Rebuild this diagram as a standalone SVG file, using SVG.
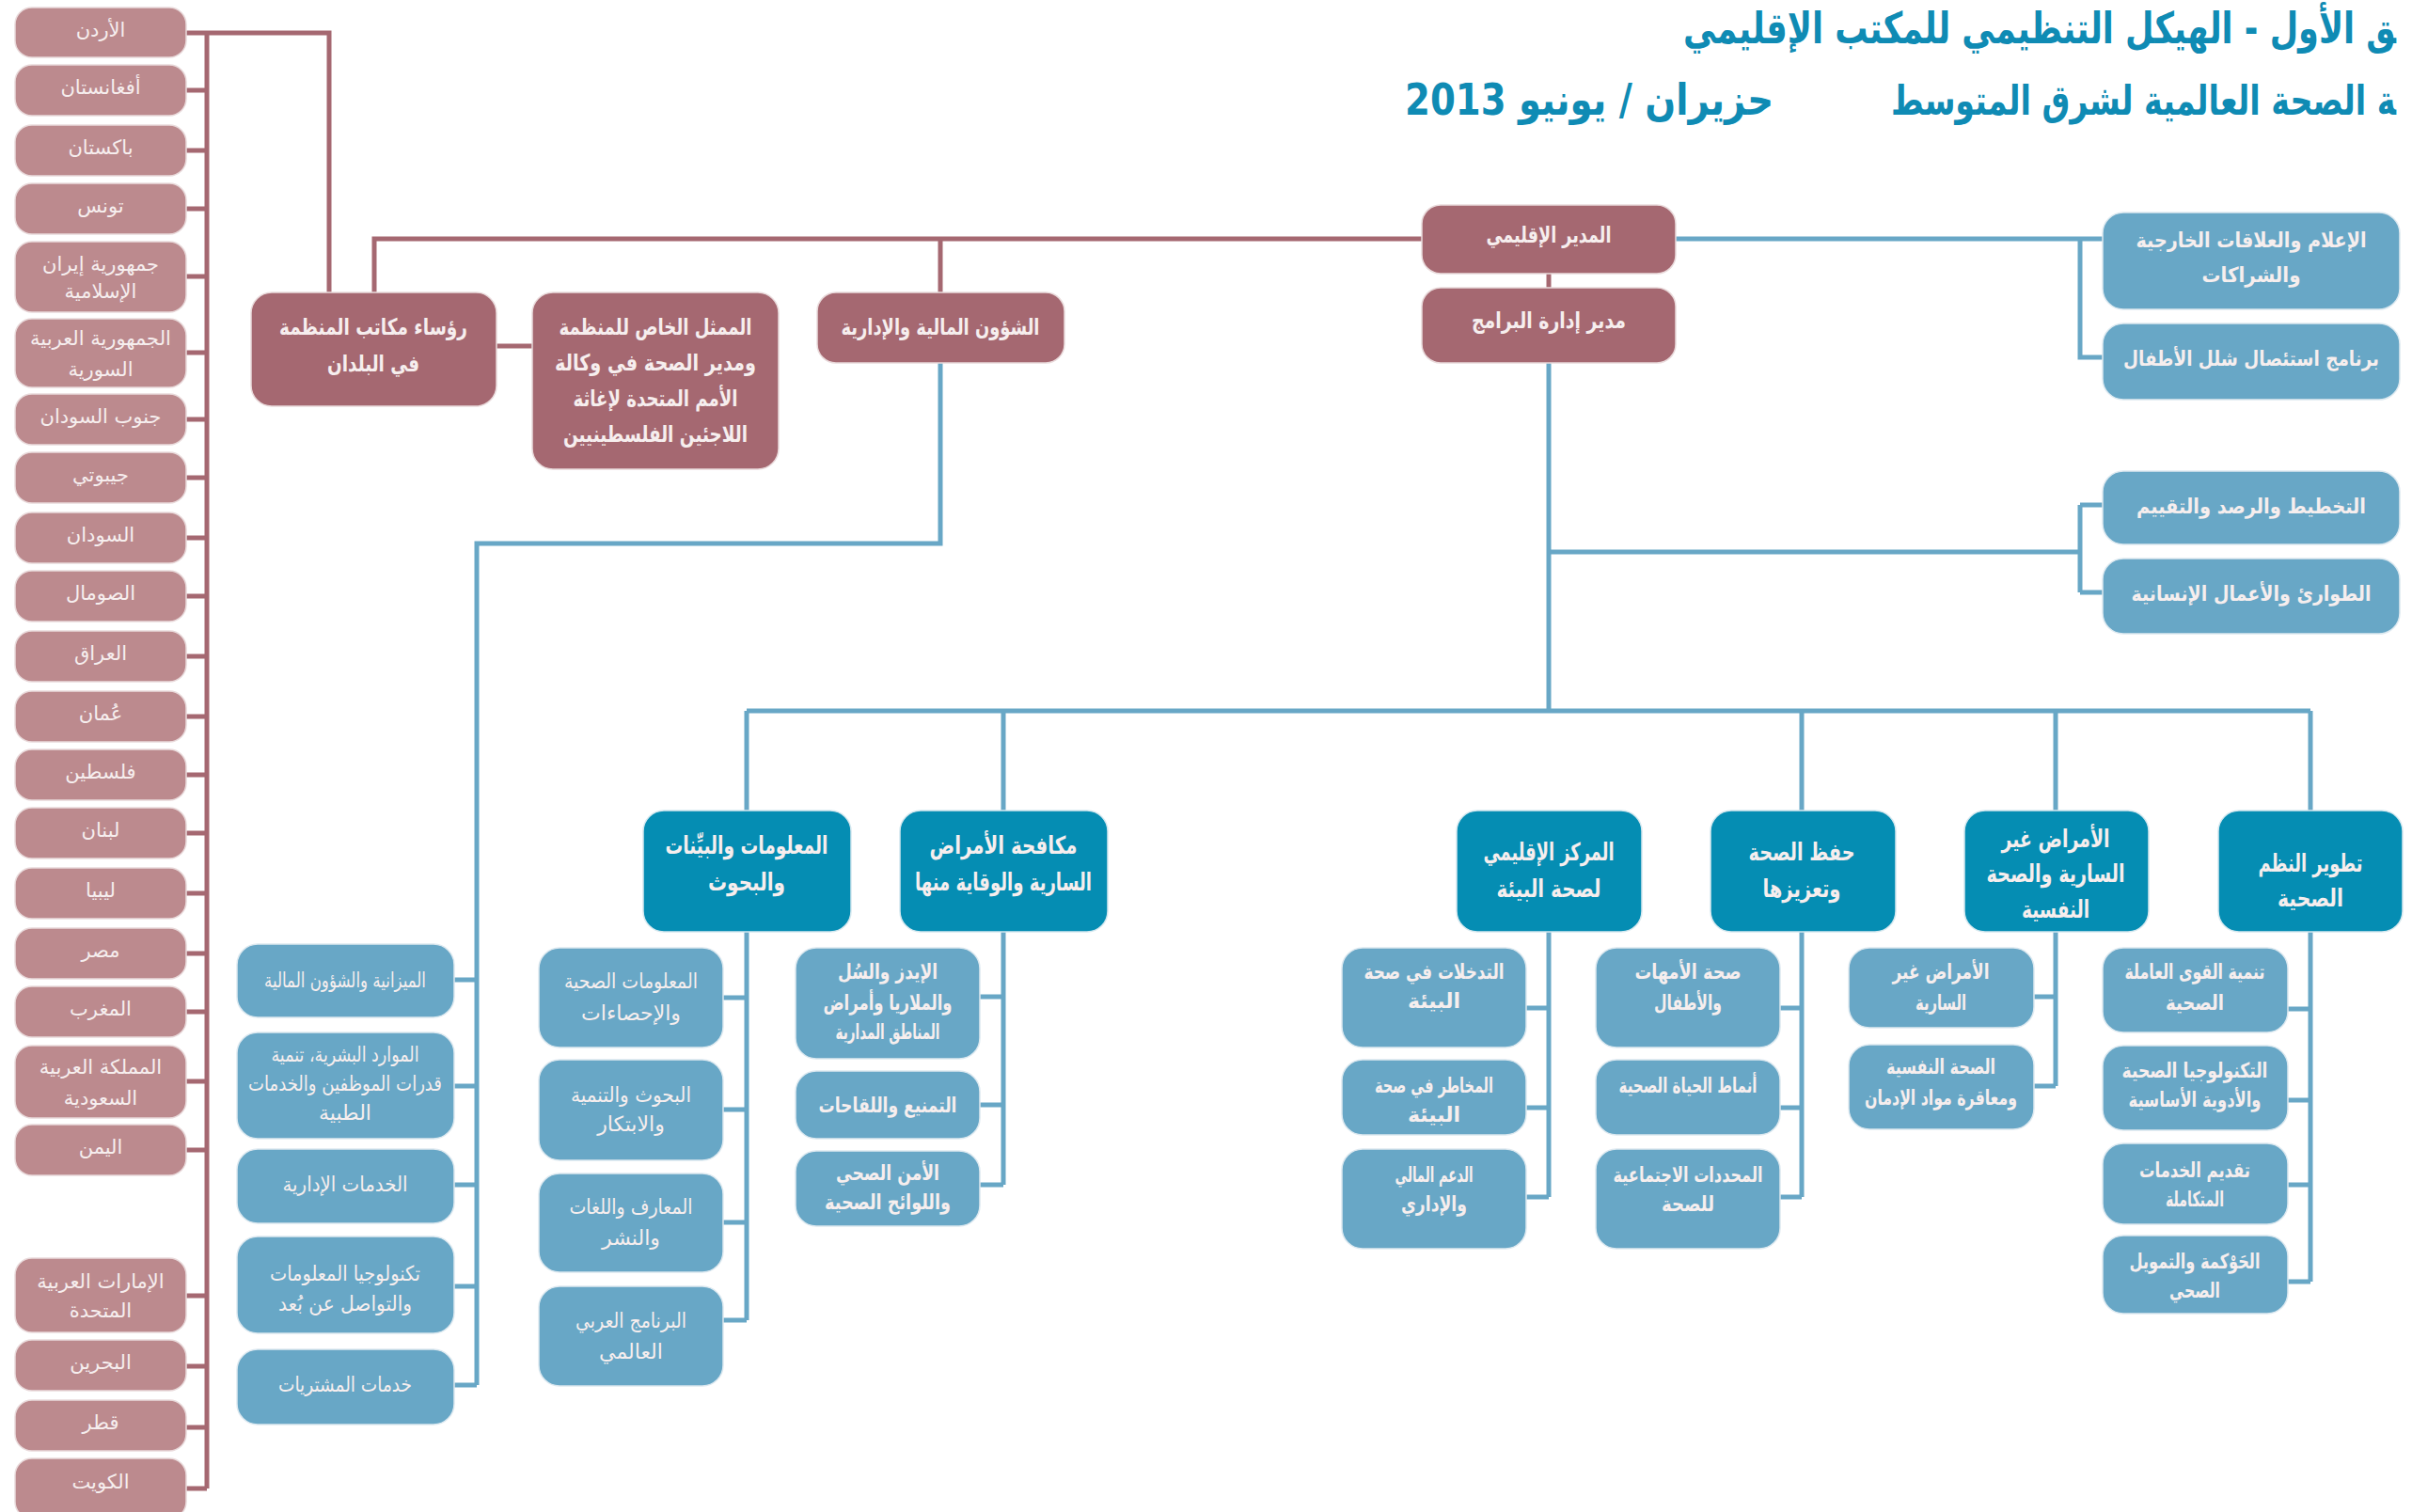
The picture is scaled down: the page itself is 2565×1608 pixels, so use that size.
<svg xmlns="http://www.w3.org/2000/svg" width="2565" height="1608" viewBox="0 0 2565 1608">
<style>
text{font-family:"DejaVu Sans",sans-serif;fill:#f6eeee;text-anchor:middle}
.t{fill:#0f8bb4;font-weight:bold}
.c rect{fill:#bc8a8e;stroke:#e9dadb;stroke-width:1.5}
.c text{font-size:21px}
.m rect{fill:#a56871;stroke:#e9dadb;stroke-width:1.5}
.m text{font-size:24px;font-weight:bold}
.b rect{fill:#68a7c6;stroke:#dde9f0;stroke-width:1.5}
.b text{font-size:22px}
.bb text{font-weight:bold}
.d rect{fill:#058db3;stroke:#d5e8ef;stroke-width:1.5}
.d text{font-size:26px;font-weight:bold}
.lm{stroke:#a56871;stroke-width:5;fill:none}
.lb{stroke:#68a7c6;stroke-width:5;fill:none}
</style>
<rect width="2565" height="1608" fill="#ffffff"/>
<g id="title">
<text class="t" x="2548" y="46" font-size="46" style="text-anchor:end" textLength="758" lengthAdjust="spacingAndGlyphs">&#x200D;ق الأول - الهيكل التنظيمي للمكتب الإقليمي</text>
<text class="t" x="2548" y="122" font-size="44" style="text-anchor:end" textLength="537" lengthAdjust="spacingAndGlyphs">&#x200D;ة الصحة العالمية لشرق المتوسط</text>
<text class="t" x="1690" y="122" font-size="46" textLength="392" lengthAdjust="spacingAndGlyphs">حزيران / يونيو 2013</text>
</g>
<g id="connectors">
<path class="lm" d="M198 35H350V311M220 35V1583"/>
<path class="lm" d="M198 96H220M198 160H220M198 222H220M198 294H220M198 375H220M198 446H220M198 508H220M198 572H220M198 634H220M198 698H220M198 762H220M198 824H220M198 886H220M198 950H220M198 1014H220M198 1076H220M198 1150H220M198 1223H220M198 1378H220M198 1453H220M198 1518H220M198 1583H220"/>
<path class="lm" d="M398 311V254H1512M1000 254V311M528 368H566M1647 291V306"/>
<path class="lb" d="M1782 254H2236M2212 254V380H2236"/>
<path class="lb" d="M1000 386V578H507V1473M483 1042H507M483 1155H507M483 1260H507M483 1368H507M483 1473H507"/>
<path class="lb" d="M1647 386V756M1647 587H2212M2212 537V630M2212 537H2236M2212 630H2236"/>
<path class="lb" d="M794 756H2457M794 756V862M1067 756V862M1916 756V862M2186 756V862M2457 756V862"/>
<path class="lb" d="M794 991V1404M769 1061H794M769 1180H794M769 1300H794M769 1404H794"/>
<path class="lb" d="M1067 991V1260M1042 1060H1067M1042 1175H1067M1042 1260H1067"/>
<path class="lb" d="M1647 991V1273M1623 1072H1647M1623 1178H1647M1623 1273H1647"/>
<path class="lb" d="M1916 991V1273M1893 1072H1916M1893 1178H1916M1893 1273H1916"/>
<path class="lb" d="M2186 991V1155M2163 1060H2186M2163 1155H2186"/>
<path class="lb" d="M2457 991V1363M2433 1073H2457M2433 1170H2457M2433 1260H2457M2433 1363H2457"/>
</g>
<g id="countries" class="c">
<g id="jordan"><rect x="16" y="8" width="182" height="53" rx="18"/><text x="107" y="39">الأردن</text></g>
<g id="afghanistan"><rect x="16" y="69" width="182" height="54" rx="18"/><text x="107" y="100">أفغانستان</text></g>
<g id="pakistan"><rect x="16" y="133" width="182" height="54" rx="18"/><text x="107" y="164">باكستان</text></g>
<g id="tunisia"><rect x="16" y="195" width="182" height="54" rx="18"/><text x="107" y="226">تونس</text></g>
<g id="iran"><rect x="16" y="257" width="182" height="75" rx="18"/><text x="107" y="288">جمهورية إيران</text><text x="107" y="317">الإسلامية</text></g>
<g id="syria"><rect x="16" y="339" width="182" height="73" rx="18"/><text x="107" y="367">الجمهورية العربية</text><text x="107" y="400">السورية</text></g>
<g id="southsudan"><rect x="16" y="419" width="182" height="54" rx="18"/><text x="107" y="450">جنوب السودان</text></g>
<g id="djibouti"><rect x="16" y="481" width="182" height="54" rx="18"/><text x="107" y="512">جيبوتي</text></g>
<g id="sudan"><rect x="16" y="545" width="182" height="54" rx="18"/><text x="107" y="576">السودان</text></g>
<g id="somalia"><rect x="16" y="607" width="182" height="54" rx="18"/><text x="107" y="638">الصومال</text></g>
<g id="iraq"><rect x="16" y="671" width="182" height="54" rx="18"/><text x="107" y="702">العراق</text></g>
<g id="oman"><rect x="16" y="735" width="182" height="54" rx="18"/><text x="107" y="766">عُمان</text></g>
<g id="palestine"><rect x="16" y="797" width="182" height="54" rx="18"/><text x="107" y="828">فلسطين</text></g>
<g id="lebanon"><rect x="16" y="859" width="182" height="54" rx="18"/><text x="107" y="890">لبنان</text></g>
<g id="libya"><rect x="16" y="923" width="182" height="54" rx="18"/><text x="107" y="954">ليبيا</text></g>
<g id="egypt"><rect x="16" y="987" width="182" height="54" rx="18"/><text x="107" y="1018">مصر</text></g>
<g id="morocco"><rect x="16" y="1049" width="182" height="54" rx="18"/><text x="107" y="1080">المغرب</text></g>
<g id="saudi"><rect x="16" y="1112" width="182" height="77" rx="18"/><text x="107" y="1142">المملكة العربية</text><text x="107" y="1175">السعودية</text></g>
<g id="yemen"><rect x="16" y="1196" width="182" height="54" rx="18"/><text x="107" y="1227">اليمن</text></g>
<g id="uae"><rect x="16" y="1338" width="182" height="79" rx="18"/><text x="107" y="1370">الإمارات العربية</text><text x="107" y="1401">المتحدة</text></g>
<g id="bahrain"><rect x="16" y="1425" width="182" height="54" rx="18"/><text x="107" y="1456">البحرين</text></g>
<g id="qatar"><rect x="16" y="1489" width="182" height="54" rx="18"/><text x="107" y="1520">قطر</text></g>
<g id="kuwait"><rect x="16" y="1551" width="182" height="64" rx="18"/><text x="107" y="1583">الكويت</text></g>
</g>
<g id="main" class="m">
<g id="heads"><rect x="267" y="311" width="261" height="121" rx="22"/><text x="397" y="356" textLength="200" lengthAdjust="spacingAndGlyphs">رؤساء مكاتب المنظمة</text><text x="397" y="395" textLength="98" lengthAdjust="spacingAndGlyphs">في البلدان</text></g>
<g id="unrwa"><rect x="566" y="311" width="262" height="188" rx="22"/><text x="697" y="356" textLength="205" lengthAdjust="spacingAndGlyphs">الممثل الخاص للمنظمة</text><text x="697" y="394" textLength="214" lengthAdjust="spacingAndGlyphs">ومدير الصحة في وكالة</text><text x="697" y="432" textLength="175" lengthAdjust="spacingAndGlyphs">الأمم المتحدة لإغاثة</text><text x="697" y="470" textLength="196" lengthAdjust="spacingAndGlyphs">اللاجئين الفلسطينيين</text></g>
<g id="dam"><rect x="869" y="311" width="263" height="75" rx="20"/><text x="1000" y="356" textLength="211" lengthAdjust="spacingAndGlyphs">الشؤون المالية والإدارية</text></g>
<g id="rd"><rect x="1512" y="218" width="270" height="73" rx="20"/><text x="1647" y="258" textLength="133" lengthAdjust="spacingAndGlyphs">المدير الإقليمي</text></g>
<g id="dpm"><rect x="1512" y="306" width="270" height="80" rx="20"/><text x="1647" y="349" textLength="164" lengthAdjust="spacingAndGlyphs">مدير إدارة البرامج</text></g>
</g>
<g id="right" class="b bb">
<g id="media"><rect x="2236" y="226" width="316" height="103" rx="22"/><text x="2394" y="263" textLength="245" lengthAdjust="spacingAndGlyphs">الإعلام والعلاقات الخارجية</text><text x="2394" y="300" textLength="105" lengthAdjust="spacingAndGlyphs">والشراكات</text></g>
<g id="polio"><rect x="2236" y="344" width="316" height="81" rx="22"/><text x="2394" y="389" font-size="18" textLength="272" lengthAdjust="spacingAndGlyphs">برنامج استئصال شلل الأطفال</text></g>
<g id="planning"><rect x="2236" y="501" width="316" height="78" rx="22"/><text x="2394" y="546" textLength="244" lengthAdjust="spacingAndGlyphs">التخطيط والرصد والتقييم</text></g>
<g id="emergency"><rect x="2236" y="594" width="316" height="80" rx="22"/><text x="2394" y="639" textLength="255" lengthAdjust="spacingAndGlyphs">الطوارئ والأعمال الإنسانية</text></g>
</g>
<g id="departments" class="d">
<g id="ier"><rect x="684" y="862" width="221" height="129" rx="22"/><text x="794" y="908" textLength="173" lengthAdjust="spacingAndGlyphs">المعلومات والبيِّنات</text><text x="794" y="947" textLength="82" lengthAdjust="spacingAndGlyphs">والبحوث</text></g>
<g id="dcd"><rect x="957" y="862" width="221" height="129" rx="22"/><text x="1067" y="908" textLength="157" lengthAdjust="spacingAndGlyphs">مكافحة الأمراض</text><text x="1067" y="947" textLength="188" lengthAdjust="spacingAndGlyphs">السارية والوقاية منها</text></g>
<g id="ceha"><rect x="1549" y="862" width="197" height="129" rx="22"/><text x="1647" y="915" textLength="139" lengthAdjust="spacingAndGlyphs">المركز الإقليمي</text><text x="1647" y="954" textLength="111" lengthAdjust="spacingAndGlyphs">لصحة البيئة</text></g>
<g id="hpp"><rect x="1819" y="862" width="197" height="129" rx="22"/><text x="1916" y="915" textLength="113" lengthAdjust="spacingAndGlyphs">حفظ الصحة</text><text x="1916" y="954" textLength="83" lengthAdjust="spacingAndGlyphs">وتعزيزها</text></g>
<g id="ncd"><rect x="2089" y="862" width="196" height="129" rx="22"/><text x="2186" y="901" textLength="115" lengthAdjust="spacingAndGlyphs">الأمراض غير</text><text x="2186" y="938" textLength="147" lengthAdjust="spacingAndGlyphs">السارية والصحة</text><text x="2186" y="976" textLength="72" lengthAdjust="spacingAndGlyphs">النفسية</text></g>
<g id="hsd"><rect x="2359" y="862" width="196" height="129" rx="22"/><text x="2457" y="927" textLength="111" lengthAdjust="spacingAndGlyphs">تطوير النظم</text><text x="2457" y="964" textLength="70" lengthAdjust="spacingAndGlyphs">الصحية</text></g>
</g>
<g id="admin" class="b">
<g id="budget"><rect x="252" y="1004" width="231" height="78" rx="22"/><text x="367" y="1050" textLength="172" lengthAdjust="spacingAndGlyphs">الميزانية والشؤون المالية</text></g>
<g id="hr"><rect x="252" y="1098" width="231" height="113" rx="22"/><text x="367" y="1129" textLength="157" lengthAdjust="spacingAndGlyphs">الموارد البشرية، تنمية</text><text x="367" y="1160" textLength="206" lengthAdjust="spacingAndGlyphs">قدرات الموظفين والخدمات</text><text x="367" y="1191">الطبية</text></g>
<g id="adminsvc"><rect x="252" y="1222" width="231" height="79" rx="22"/><text x="367" y="1267" textLength="133" lengthAdjust="spacingAndGlyphs">الخدمات الإدارية</text></g>
<g id="it"><rect x="252" y="1315" width="231" height="103" rx="22"/><text x="367" y="1362" textLength="160" lengthAdjust="spacingAndGlyphs">تكنولوجيا المعلومات</text><text x="367" y="1394" textLength="142" lengthAdjust="spacingAndGlyphs">والتواصل عن بُعد</text></g>
<g id="procure"><rect x="252" y="1435" width="231" height="80" rx="22"/><text x="367" y="1480" textLength="142" lengthAdjust="spacingAndGlyphs">خدمات المشتريات</text></g>
</g>
<g id="ier-units" class="b">
<g id="his"><rect x="573" y="1008" width="196" height="106" rx="22"/><text x="671" y="1051" textLength="142" lengthAdjust="spacingAndGlyphs">المعلومات الصحية</text><text x="671" y="1085">والإحصاءات</text></g>
<g id="rdi"><rect x="573" y="1127" width="196" height="107" rx="22"/><text x="671" y="1172" textLength="128" lengthAdjust="spacingAndGlyphs">البحوث والتنمية</text><text x="671" y="1203">والابتكار</text></g>
<g id="klp"><rect x="573" y="1248" width="196" height="105" rx="22"/><text x="671" y="1291" textLength="131" lengthAdjust="spacingAndGlyphs">المعارف واللغات</text><text x="671" y="1324">والنشر</text></g>
<g id="agp"><rect x="573" y="1368" width="196" height="106" rx="22"/><text x="671" y="1412" textLength="118" lengthAdjust="spacingAndGlyphs">البرنامج العربي</text><text x="671" y="1445">العالمي</text></g>
</g>
<g id="dcd-units" class="b bb">
<g id="atm"><rect x="846" y="1008" width="196" height="118" rx="22"/><text x="944" y="1041" textLength="106" lengthAdjust="spacingAndGlyphs">الإيدز والسُل</text><text x="944" y="1074" textLength="137" lengthAdjust="spacingAndGlyphs">والملاريا وأمراض</text><text x="944" y="1105" textLength="111" lengthAdjust="spacingAndGlyphs">المناطق المدارية</text></g>
<g id="vpi"><rect x="846" y="1139" width="196" height="72" rx="22"/><text x="944" y="1183" textLength="147" lengthAdjust="spacingAndGlyphs">التمنيع واللقاحات</text></g>
<g id="ihr"><rect x="846" y="1224" width="196" height="80" rx="22"/><text x="944" y="1255" textLength="110" lengthAdjust="spacingAndGlyphs">الأمن الصحي</text><text x="944" y="1286" textLength="134" lengthAdjust="spacingAndGlyphs">واللوائح الصحية</text></g>
</g>
<g id="ceha-units" class="b bb">
<g id="ehi"><rect x="1427" y="1008" width="196" height="106" rx="22"/><text x="1525" y="1041" textLength="149" lengthAdjust="spacingAndGlyphs">التدخلات في صحة</text><text x="1525" y="1072">البيئة</text></g>
<g id="ehr"><rect x="1427" y="1127" width="196" height="80" rx="22"/><text x="1525" y="1162" textLength="126" lengthAdjust="spacingAndGlyphs">المخاطر في صحة</text><text x="1525" y="1193">البيئة</text></g>
<g id="fas"><rect x="1427" y="1222" width="196" height="106" rx="22"/><text x="1525" y="1257" textLength="83" lengthAdjust="spacingAndGlyphs">الدعم المالي</text><text x="1525" y="1288" textLength="70" lengthAdjust="spacingAndGlyphs">والإداري</text></g>
</g>
<g id="hpp-units" class="b bb">
<g id="mch"><rect x="1697" y="1008" width="196" height="106" rx="22"/><text x="1795" y="1041" textLength="113" lengthAdjust="spacingAndGlyphs">صحة الأمهات</text><text x="1795" y="1074" textLength="72" lengthAdjust="spacingAndGlyphs">والأطفال</text></g>
<g id="hls"><rect x="1697" y="1127" width="196" height="80" rx="22"/><text x="1795" y="1162" textLength="147" lengthAdjust="spacingAndGlyphs">أنماط الحياة الصحية</text></g>
<g id="sdh"><rect x="1697" y="1222" width="196" height="106" rx="22"/><text x="1795" y="1257" textLength="159" lengthAdjust="spacingAndGlyphs">المحددات الاجتماعية</text><text x="1795" y="1288" textLength="56" lengthAdjust="spacingAndGlyphs">للصحة</text></g>
</g>
<g id="ncd-units" class="b bb">
<g id="ncdu"><rect x="1966" y="1008" width="197" height="85" rx="22"/><text x="2064" y="1041" textLength="103" lengthAdjust="spacingAndGlyphs">الأمراض غير</text><text x="2064" y="1074" textLength="54" lengthAdjust="spacingAndGlyphs">السارية</text></g>
<g id="mnh"><rect x="1966" y="1111" width="197" height="90" rx="22"/><text x="2064" y="1142" textLength="116" lengthAdjust="spacingAndGlyphs">الصحة النفسية</text><text x="2064" y="1175" textLength="162" lengthAdjust="spacingAndGlyphs">ومعاقرة مواد الإدمان</text></g>
</g>
<g id="hsd-units" class="b bb">
<g id="hwd"><rect x="2236" y="1008" width="197" height="90" rx="22"/><text x="2334" y="1041" textLength="149" lengthAdjust="spacingAndGlyphs">تنمية القوى العاملة</text><text x="2334" y="1074" textLength="62" lengthAdjust="spacingAndGlyphs">الصحية</text></g>
<g id="htm"><rect x="2236" y="1112" width="197" height="90" rx="22"/><text x="2334" y="1146" textLength="155" lengthAdjust="spacingAndGlyphs">التكنولوجيا الصحية</text><text x="2334" y="1177" textLength="141" lengthAdjust="spacingAndGlyphs">والأدوية الأساسية</text></g>
<g id="ids"><rect x="2236" y="1216" width="197" height="86" rx="22"/><text x="2334" y="1252" textLength="118" lengthAdjust="spacingAndGlyphs">تقديم الخدمات</text><text x="2334" y="1283" textLength="62" lengthAdjust="spacingAndGlyphs">المتكاملة</text></g>
<g id="hgf"><rect x="2236" y="1314" width="197" height="83" rx="22"/><text x="2334" y="1349" textLength="139" lengthAdjust="spacingAndGlyphs">الحَوْكمة والتمويل</text><text x="2334" y="1380" textLength="54" lengthAdjust="spacingAndGlyphs">الصحي</text></g>
</g>
</svg>
